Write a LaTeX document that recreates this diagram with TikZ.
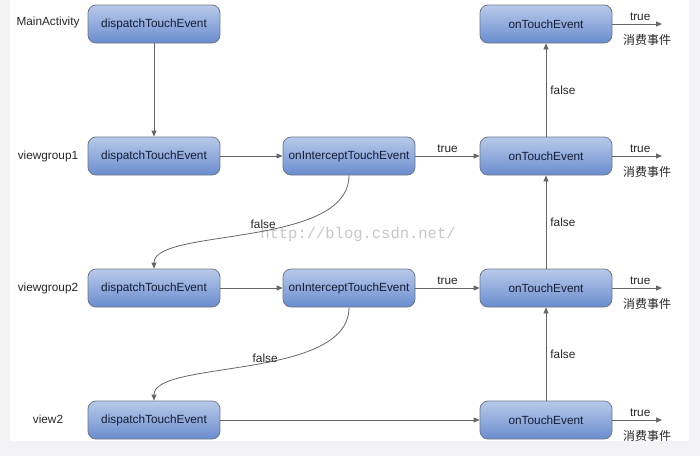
\documentclass[tikz,border=0pt]{standalone}
\usepackage{fontspec}
\setmainfont{Liberation Sans}
\newfontfamily\cjk{Noto Sans CJK SC}
\newfontfamily\wmfont{Liberation Mono}
\usetikzlibrary{arrows.meta}
\definecolor{boxtop}{HTML}{B8CAEA}
\definecolor{boxbot}{HTML}{6A8CCE}
\definecolor{boxline}{HTML}{6E7788}
\definecolor{boxtext}{HTML}{141C36}
\definecolor{wire}{HTML}{666666}
\definecolor{pagebg}{HTML}{F3F3F5}
\tikzset{
  evbox/.style={rounded corners=8pt, draw=boxline, line width=0.8pt,
    top color=boxtop, bottom color=boxbot, minimum width=132pt,
    minimum height=38pt, inner sep=0pt, text=boxtext,
    font=\fontsize{11.8}{13}\selectfont},
  lbl/.style={text=black!85, font=\fontsize{11.8}{13}\selectfont, inner sep=1pt},
  cn/.style={text=black!85, font=\cjk\fontsize{12}{13}\selectfont, inner sep=1pt},
  flow/.style={draw=wire, line width=0.8pt, -{Triangle[length=6pt,width=5pt]}},
}
\begin{document}
\begin{tikzpicture}[x=1pt, y=-1pt]
  % page and drawing area
  \fill[pagebg] (0,0) rectangle (700,456);
  \fill[white] (10,0) rectangle (689,441);
  \useasboundingbox (0,0) rectangle (700,456);

  % watermark
  \node[text=black!22, font=\wmfont\fontsize{15.5}{17}\selectfont] (wm) at (358,234) {http://blog.csdn.net/};

  % row labels
  \node[lbl] (lMain) at (48,22) {MainActivity};
  \node[lbl] (lVg1)  at (48,156) {viewgroup1};
  \node[lbl] (lVg2)  at (48,288) {viewgroup2};
  \node[lbl] (lV2)   at (48,419) {view2};

  % event boxes
  \node[evbox] (d0) at (154,24)  {dispatchTouchEvent};
  \node[evbox] (t0) at (546,24)  {onTouchEvent};
  \node[evbox] (d1) at (154,156) {dispatchTouchEvent};
  \node[evbox] (i1) at (349,156) {onInterceptTouchEvent};
  \node[evbox] (t1) at (546,156) {onTouchEvent};
  \node[evbox] (d2) at (154,288) {dispatchTouchEvent};
  \node[evbox] (i2) at (349,288) {onInterceptTouchEvent};
  \node[evbox] (t2) at (546,288) {onTouchEvent};
  \node[evbox] (d3) at (154,420) {dispatchTouchEvent};
  \node[evbox] (t3) at (546,420) {onTouchEvent};

  % consume endpoints
  \coordinate (e0) at (662,24);
  \coordinate (e1) at (662,156);
  \coordinate (e2) at (662,288);
  \coordinate (e3) at (662,420);

  % dispatch chain
  \draw[flow] (d0) -- (d1);
  \draw[flow] (d1) -- (i1);
  \draw[flow] (d2) -- (i2);
  \draw[flow] (d3) -- (t3);
  \draw[flow] (i1) -- node[lbl, above=2pt] {true} (t1);
  \draw[flow] (i2) -- node[lbl, above=2pt] {true} (t2);

  % intercept false: pass down
  \draw[flow] (i1.south) .. controls +(0,73) and +(0,-41) .. node[lbl, pos=0.46, above=2pt, xshift=0pt] {false} (d2.north);
  \draw[flow] (i2.south) .. controls +(0,73) and +(0,-41) .. node[lbl, pos=0.46, above=0pt, xshift=2pt] {false} (d3.north);

  % onTouchEvent false: bubble up
  \draw[flow] (t3) -- node[lbl, right=3pt] {false} (t2);
  \draw[flow] (t2) -- node[lbl, right=3pt] {false} (t1);
  \draw[flow] (t1) -- node[lbl, right=3pt] {false} (t0);

  % true: event consumed
  \foreach \k in {0,1,2,3} {
    \draw[flow] (t\k) -- node[lbl, pos=0.56, above=2pt] {true} node[cn, pos=0.7, below=9pt] {消费事件} (e\k);
  }
\end{tikzpicture}
\end{document}
